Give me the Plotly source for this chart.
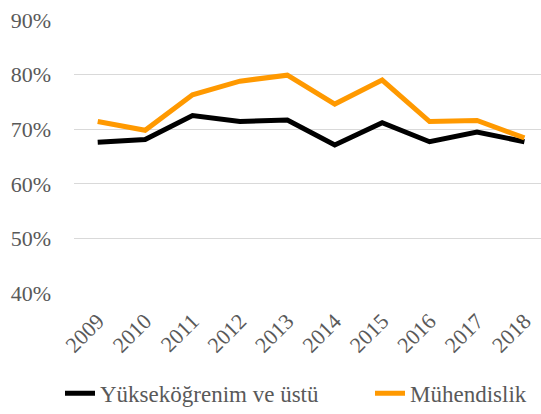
import plotly.graph_objects as go

years = ["2009", "2010", "2011", "2012", "2013", "2014", "2015", "2016", "2017", "2018"]
yuksek = [0.676, 0.681, 0.725, 0.714, 0.717, 0.671, 0.712, 0.677, 0.695, 0.677]
muhendis = [0.714, 0.698, 0.763, 0.788, 0.799, 0.746, 0.790, 0.714, 0.716, 0.684]
names = ["Yükseköğrenim ve üstü", "Mühendislik"]
colors = ["#000000", "#FF9900"]
legend_ids = ["legend", "legend2"]

fig = go.Figure()
for name, vals, col, lg in zip(names, [yuksek, muhendis], colors, legend_ids):
    fig.add_trace(go.Scatter(x=years, y=vals, mode="lines", name=name,
                             line=dict(color=col, width=5), legend=lg))

fam = "Liberation Serif, Times New Roman, Times, serif"
tickfont = dict(family=fam, size=22, color="#595959")
legfont = dict(family=fam, size=23, color="#595959")
legend_common = dict(orientation="h", xref="container", yref="container",
                     y=0.05, xanchor="left", yanchor="middle",
                     font=legfont, itemwidth=30, bgcolor="rgba(0,0,0,0)")
fig.update_layout(
    width=541, height=414,
    margin=dict(l=74, r=0, t=20, b=121, autoexpand=False),
    paper_bgcolor="white", plot_bgcolor="white",
    font=tickfont,
    showlegend=True,
    legend=dict(x=60 / 541, **legend_common),
    legend2=dict(x=370 / 541, **legend_common),
    xaxis=dict(type="category", range=[-0.5, 9.35], showgrid=False, showline=False,
               zeroline=False, tickangle=-45, ticks="", ticklabelstandoff=10,
               tickfont=tickfont, automargin=False),
    yaxis=dict(range=[0.4, 0.9], dtick=0.1, tickformat=".0%", showgrid=True,
               gridcolor="#D9D9D9", gridwidth=1.3, zeroline=False, showline=False,
               ticks="", ticklabelstandoff=22, tickfont=tickfont, automargin=False),
)
fig.write_html("out.html", config={"displayModeBar": False},
               post_script="document.body.style.margin='0';document.body.style.padding='0';")
